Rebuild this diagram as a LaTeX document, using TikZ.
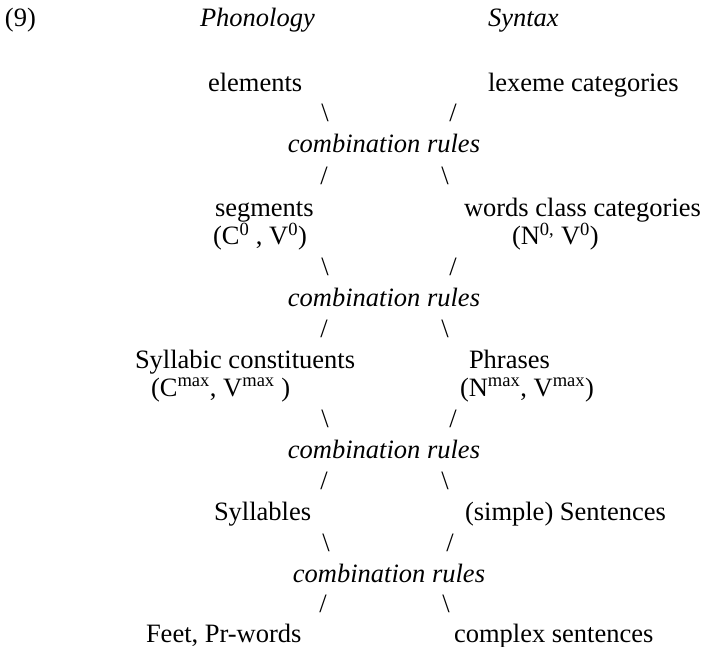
\documentclass[tikz,border=0pt]{standalone}
\usepackage{fontspec}
\setmainfont{Liberation Serif}
\begin{document}
\begin{tikzpicture}[x=1pt,y=-1pt,
  every node/.style={inner sep=0pt,outer sep=0pt,font=\fontsize{26.5}{28}\selectfont},
  lbl/.style={anchor=base west},
  head/.style={anchor=base west,font=\fontsize{26.5}{28}\selectfont\itshape},
  rule/.style={anchor=base,font=\fontsize{26.5}{28}\selectfont\itshape},
  bar/.style={anchor=base}]
\useasboundingbox (0,0) rectangle (707,647);
\newcommand{\hi}[1]{\textsuperscript{#1}}

% headings
\node[lbl] (ex) at (5,27) {(9)};
\node[head] (phon) at (200,27) {Phonology};
\node[head] (synt) at (488,27) {Syntax};

% level 1
\node[lbl] (el) at (208,92) {elements};
\node[lbl] (lex) at (488,92) {lexeme categories};
\node[bar] (b1l) at (325,122) {\textbackslash};
\node[bar] (b1r) at (453,122) {/};
\node[rule] (r1) at (384,153) {combination rules};
\node[bar] (b2l) at (324,185) {/};
\node[bar] (b2r) at (445,185) {\textbackslash};

% level 2
\node[lbl] (seg) at (215,217) {segments};
\node[lbl] (segx) at (213,245) {(C\hi{0} , V\hi{0})};
\node[lbl] (wcc) at (464,217) {words class categories};
\node[lbl] (wccx) at (512,245) {(N\hi{0,} V\hi{0})};
\node[bar] (b3l) at (325,276) {\textbackslash};
\node[bar] (b3r) at (453,276) {/};
\node[rule] (r2) at (384,306) {combination rules};
\node[bar] (b4l) at (324,337) {/};
\node[bar] (b4r) at (445,337) {\textbackslash};

% level 3
\node[lbl] (syc) at (135,368) {Syllabic constituents};
\node[lbl] (sycx) at (151,396) {(C\hi{max}, V\hi{max} )};
\node[lbl] (phr) at (469,368) {Phrases};
\node[lbl] (phrx) at (460,396) {(N\hi{max}, V\hi{max})};
\node[bar] (b5l) at (325,427) {\textbackslash};
\node[bar] (b5r) at (453,427) {/};
\node[rule] (r3) at (384,458) {combination rules};
\node[bar] (b6l) at (324,489) {/};
\node[bar] (b6r) at (445,489) {\textbackslash};

% level 4
\node[lbl] (syl) at (214,520) {Syllables};
\node[lbl] (sen) at (465,520) {(simple) Sentences};
\node[bar] (b7l) at (326,551) {\textbackslash};
\node[bar] (b7r) at (450,551) {/};
\node[rule] (r4) at (389,582) {combination rules};
\node[bar] (b8l) at (323,612) {/};
\node[bar] (b8r) at (446,612) {\textbackslash};

% level 5
\node[lbl] (feet) at (146,642) {Feet, Pr-words};
\node[lbl] (cs) at (454,642) {complex sentences};
\end{tikzpicture}
\end{document}
